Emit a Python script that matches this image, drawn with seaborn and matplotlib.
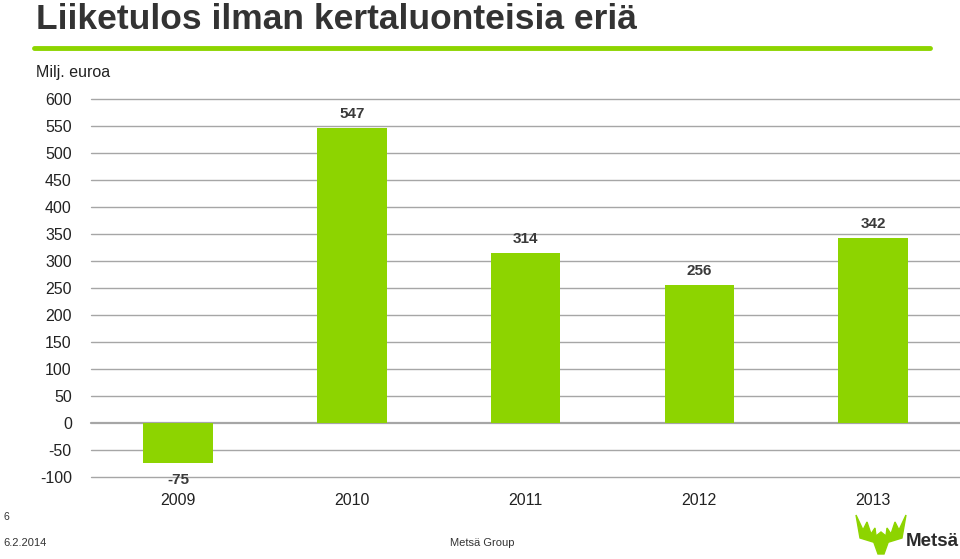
"""
Liiketulos ilman kertaluonteisia eriä - bar chart recreation.
"""

import numpy as np
import pandas as pd
import matplotlib.pyplot as plt
import matplotlib.patches as mpatches
import seaborn as sns

# Data
years = ['2009', '2010', '2011', '2012', '2013']
values = [-75, 547, 314, 256, 342]
y_ticks = [-100, -50, 0, 50, 100, 150, 200, 250, 300, 350, 400, 450, 500, 550, 600]

GREEN = '#8DD400'
DARK = '#3A3A3A'

sns.set_style('white')
plt.rcParams['font.family'] = ['Liberation Sans', 'DejaVu Sans']

df = pd.DataFrame({'year': years, 'value': values})

fig = plt.figure(figsize=(9.6, 5.59), dpi=100)
ax = fig.add_axes([0.095, 0.147, 0.905, 0.676])

# Grid lines behind bars
for t in y_ticks:
    ax.axhline(t, color='#A6A6A6', lw=1.0 if t != 0 else 1.6, zorder=0,
               clip_on=False)

sns.barplot(data=df, x='year', y='value', order=years, color=GREEN,
            width=0.4, saturation=1, linewidth=0, ax=ax, zorder=2)

ax.set_ylim(-100, 600)
ax.set_xlim(-0.5, 4.5)
ax.set_yticks(y_ticks)
ax.set_yticklabels([str(t) for t in y_ticks], fontsize=11.5, color='#222222')
ax.set_xticklabels(years, fontsize=11.5, color='#222222')
ax.tick_params(axis='both', length=0)
ax.tick_params(axis='y', pad=14)
ax.tick_params(axis='x', pad=12)
ax.set_xlabel('')
ax.set_ylabel('')
for s in ax.spines.values():
    s.set_visible(False)

# Value labels
for i, v in enumerate(values):
    off = 10 if v >= 0 else -12
    ax.annotate(str(v), (i, v), xytext=(0, off), textcoords='offset points',
                ha='center', va='center', fontsize=11, fontweight='bold',
                color=DARK)

# Title and header
fig.text(0.038, 0.966, 'Liiketulos ilman kertaluonteisia eriä',
         family=['Liberation Sans Narrow', 'Liberation Sans'],
         fontsize=25.5, fontweight='bold', color='#333333', va='center')
fig.add_artist(plt.Line2D([0.035, 0.969], [0.915, 0.915], color=GREEN, lw=3.5))
fig.text(0.037, 0.871, 'Milj. euroa', fontsize=11.5, color='#222222', va='center')

# Footer
fig.text(0.004, 0.075, '6', fontsize=7.5, color='#333333', va='center')
fig.text(0.004, 0.028, '6.2.2014', fontsize=8, color='#333333', va='center')
fig.text(0.502, 0.028, 'Metsä Group', fontsize=8, color='#333333',
         va='center', ha='center')

# Logo: simple antler mark + wordmark
antler = np.array([
    [856, 515], [863, 530], [867, 522], [871, 534], [875, 528], [876, 536],
    [881, 532], [886, 536], [887, 528], [891, 534], [895, 522], [899, 530],
    [906, 515], [902, 538], [889, 542], [873, 542], [860, 538],
])
head = np.array([[873, 540], [889, 540], [884, 554], [878, 554]])
for pts in (antler, head):
    poly = mpatches.Polygon(
        np.column_stack([pts[:, 0] / 960, 1 - pts[:, 1] / 559]),
        closed=True, transform=fig.transFigure, color=GREEN)
    fig.add_artist(poly)
fig.text(0.999, 0.032, 'Metsä', fontsize=13.5, fontweight='bold',
         color='#2B2B2B', va='center', ha='right')

fig.savefig('out.png', dpi=100)
